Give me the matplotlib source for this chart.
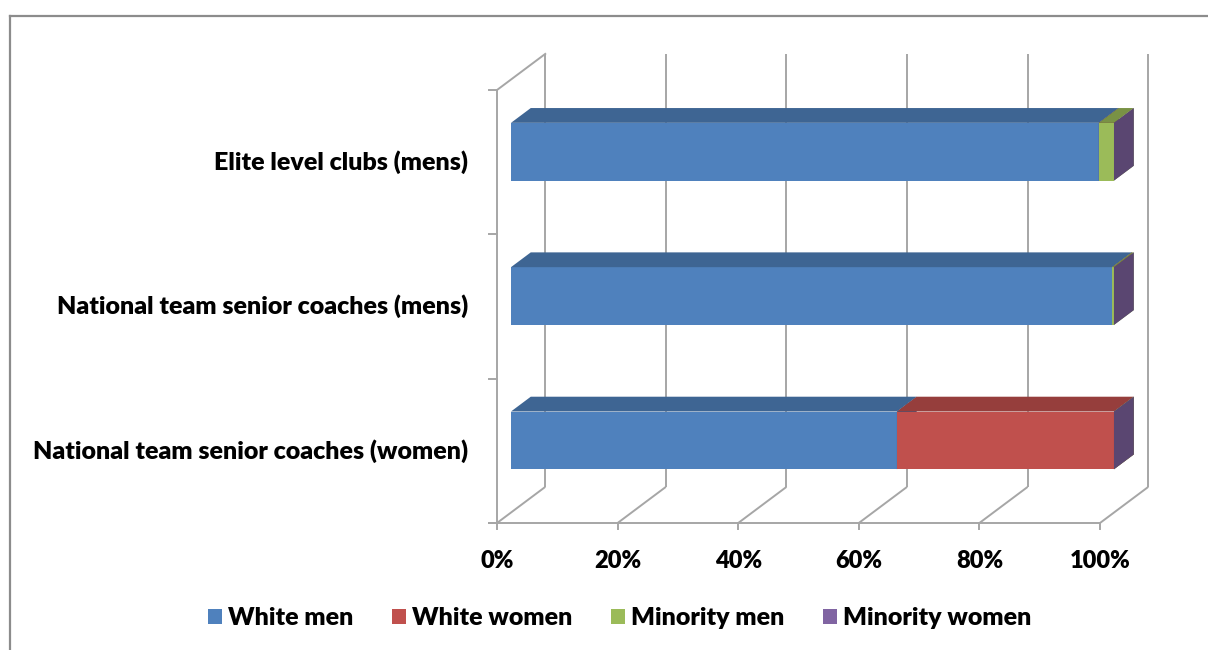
import numpy as np
import matplotlib
matplotlib.use("Agg")
from matplotlib import pyplot as plt
import matplotlib.patches as patches
from matplotlib.lines import Line2D

plt.rcParams['font.family'] = ['Lato', 'DejaVu Sans']

categories = ["National team senior coaches (women)",
              "National team senior coaches (mens)",
              "Elite level clubs (mens)"]
series = ["White men", "White women", "Minority men", "Minority women"]
white_men = [64.0, 99.7, 97.5]
white_women = [36.0, 0.0, 0.0]
minority_men = [0.0, 0.3, 2.5]
minority_women = [0.0, 0.0, 0.0]
ticks = [0, 20, 40, 60, 80, 100]
tick_labels = ["0%", "20%", "40%", "60%", "80%", "100%"]

colors = ["#4F81BD", "#C0504D", "#9BBB59", "#8064A2"]

# pseudo-3d: depth shifts everything right/up
DX, DY = 8.0, 0.25
T_FRONT, T_BACK = 0.29, 0.70
HALF = 0.2
GRID = "#A6A6A6"
WEIGHT = 'heavy'


def shade(c, f):
    r, g, b = matplotlib.colors.to_rgb(c)
    return (r * f, g * f, b * f)


def proj(x, y, t):
    return (x + t * DX, y + t * DY)


W, H = 1208, 650
fig = plt.figure(figsize=(W / 100, H / 100), dpi=100)
ax = fig.add_axes([0, 0, 1, 1])
ax.axis('off')
px_x = 603.0 / 100
px_y = (523 - 90) / 3.0
ax.set_xlim(-497 / px_x, (W - 497) / px_x)
ax.set_ylim(-(H - 523) / px_y, 523 / px_y)

# walls and floor
n_cat = len(categories)
for v in ticks:
    bx, by = proj(v, 0, 1)
    ax.plot([v, bx], [0, by], color=GRID, lw=1.4, zorder=1, solid_capstyle='butt')
    ax.plot([bx, bx], [by, by + n_cat], color=GRID, lw=1.4, zorder=1, solid_capstyle='butt')
    ax.plot([v, v], [0, -0.045], color=GRID, lw=1.4, zorder=1)
ax.plot([-1.3, 100], [0, 0], color=GRID, lw=1.4, zorder=1)
ax.plot([0, 0], [0, n_cat], color=GRID, lw=1.4, zorder=1)
tx, ty = proj(0, n_cat, 1)
ax.plot([0, tx], [n_cat, ty], color=GRID, lw=1.4, zorder=1)
for k in range(n_cat + 1):
    ax.plot([-1.3, 0], [k, k], color=GRID, lw=1.4, zorder=1)

# stacked boxes
values = [white_men, white_women, minority_men, minority_women]
z = 3
for i, cat in enumerate(categories):
    yc = i + 0.5
    y0, y1 = yc - HALF, yc + HALF
    left = 0.0
    for s, vals in enumerate(values):
        right = left + vals[i]
        col = colors[s]
        if vals[i] > 0:
            front = [proj(left, y0, T_FRONT), proj(right, y0, T_FRONT),
                     proj(right, y1, T_FRONT), proj(left, y1, T_FRONT)]
            top = [proj(left, y1, T_FRONT), proj(right, y1, T_FRONT),
                   proj(right, y1, T_BACK), proj(left, y1, T_BACK)]
            ax.add_patch(patches.Polygon(front, closed=True, facecolor=col, lw=0, zorder=z))
            ax.add_patch(patches.Polygon(top, closed=True, facecolor=shade(col, 0.78), lw=0, zorder=z))
        side = [proj(right, y0, T_FRONT), proj(right, y1, T_FRONT),
                proj(right, y1, T_BACK), proj(right, y0, T_BACK)]
        ax.add_patch(patches.Polygon(side, closed=True, facecolor=shade(col, 0.7), lw=0, zorder=z))
        z += 1
        left = right
    ax.text(-4.8, yc, cat, ha='right', va='center', fontsize=18, fontweight=WEIGHT)

for v, lab in zip(ticks, tick_labels):
    ax.text(v, -0.26, lab, ha='center', va='center', fontsize=17, fontweight=WEIGHT)

handles = [patches.Patch(facecolor=c, edgecolor='none') for c in colors]
fig.legend(handles, series, loc='center', bbox_to_anchor=(0.513, 1 - 618 / H),
           ncol=4, frameon=False, prop={'size': 18, 'weight': WEIGHT},
           handlelength=0.55, handleheight=0.55, handletextpad=0.25, columnspacing=1.55)

# outer frame
fig.add_artist(Line2D([10 / W, 10 / W], [0, 1 - 16 / H], transform=fig.transFigure,
                      color="#8C8C8C", lw=1.6))
fig.add_artist(Line2D([10 / W, 1], [1 - 16 / H, 1 - 16 / H], transform=fig.transFigure,
                      color="#8C8C8C", lw=1.6))

fig.savefig("out.png", dpi=100)
